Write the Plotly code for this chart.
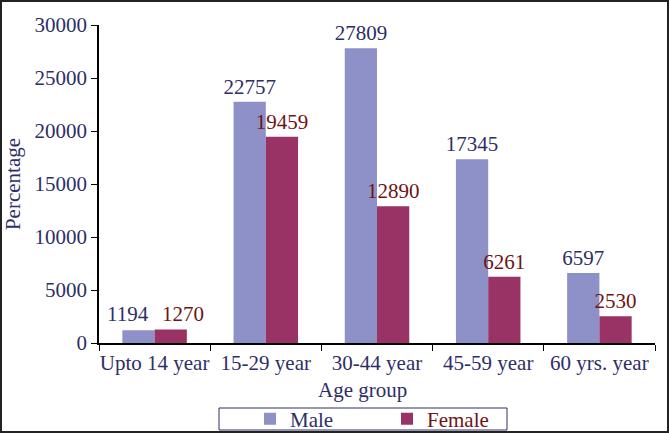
import plotly.graph_objects as go

groups = ["Upto 14 year", "15-29 year", "30-44 year", "45-59 year", "60 yrs. year"]
male = [1194, 22757, 27809, 17345, 6597]
female = [1270, 19459, 12890, 6261, 2530]

navy = "#2e2e66"
maroon = "#6e1414"
font = "Liberation Serif, Times New Roman, serif"
fs = 21

# the first group is too narrow for both labels, so those two are shifted apart
male_text = [""] + [str(v) for v in male[1:]]
female_text = [""] + [str(v) for v in female[1:]]

fig = go.Figure()
fig.add_trace(go.Bar(x=groups, y=male, name="Male",
                     marker=dict(color="#8e90c8", line=dict(width=0)),
                     text=male_text, textposition="outside", cliponaxis=False,
                     constraintext="none",
                     textfont=dict(color=navy, size=fs, family=font)))
fig.add_trace(go.Bar(x=groups, y=female,
                     name="<span style='color:%s'>Female</span>" % maroon,
                     marker=dict(color="#993366", line=dict(width=0)),
                     text=female_text, textposition="outside", cliponaxis=False,
                     constraintext="none",
                     textfont=dict(color=maroon, size=fs, family=font)))

L, R, T, B = 99, 14, 25, 91
W, H = 669, 434
pw, ph = W - L - R, H - T - B


def px_x(p):
    return (p - L) / pw


def px_y(p):
    return (T + ph - p) / ph


notes = [dict(text="Age group", xref="paper", yref="paper",
              x=px_x(362), y=px_y(390), yanchor="middle",
              showarrow=False, font=dict(size=fs, color=navy))]
notes.append(dict(text=str(male[0]), x=groups[0], y=male[0], xref="x", yref="y",
                  xshift=-27, yanchor="bottom", yshift=2, showarrow=False,
                  font=dict(size=fs, color=navy)))
notes.append(dict(text=str(female[0]), x=groups[0], y=female[0], xref="x", yref="y",
                  xshift=28, yanchor="bottom", yshift=2, showarrow=False,
                  font=dict(size=fs, color=maroon)))

fig.update_layout(
    width=W, height=H,
    margin=dict(l=L, r=R, t=T, b=B, autoexpand=False),
    paper_bgcolor="white", plot_bgcolor="white",
    barmode="group", bargap=0.42, bargroupgap=0,
    font=dict(family=font, size=fs, color=navy),
    showlegend=True,
    legend=dict(orientation="h", x=px_x(387), xanchor="center",
                y=px_y(419), yanchor="middle",
                borderwidth=0, bgcolor="rgba(0,0,0,0)",
                font=dict(size=fs, color=navy, family=font),
                itemwidth=30, tracegroupgap=0,
                entrywidthmode="pixels", entrywidth=92),
    xaxis=dict(showline=True, linecolor="black", linewidth=1.5,
               ticks="outside", tickson="boundaries", ticklen=6,
               tickangle=0, automargin=False,
               tickcolor="black", tickfont=dict(size=fs, color=navy)),
    yaxis=dict(range=[0, 30000], dtick=5000, tickformat="d",
               showline=True, automargin=False,
               linecolor="black", linewidth=1.5, ticks="outside",
               ticklen=6, tickcolor="black", showgrid=False, zeroline=False,
               tickfont=dict(size=fs, color=navy),
               title=dict(text="Percentage", standoff=8,
                          font=dict(size=fs, color=navy))),
    annotations=notes,
    shapes=[
        # outer frame
        dict(type="rect", xref="paper", yref="paper",
             x0=px_x(1), x1=px_x(W - 1), y0=px_y(H - 2), y1=px_y(1),
             line=dict(color="#222222", width=2)),
        # legend box
        dict(type="rect", xref="paper", yref="paper", layer="below",
             x0=px_x(219), x1=px_x(507), y0=px_y(430), y1=px_y(408),
             line=dict(color=navy, width=1)),
    ],
)

fig.write_html("out.html", config={"displayModeBar": False},
               post_script="document.body.style.margin='0';")
